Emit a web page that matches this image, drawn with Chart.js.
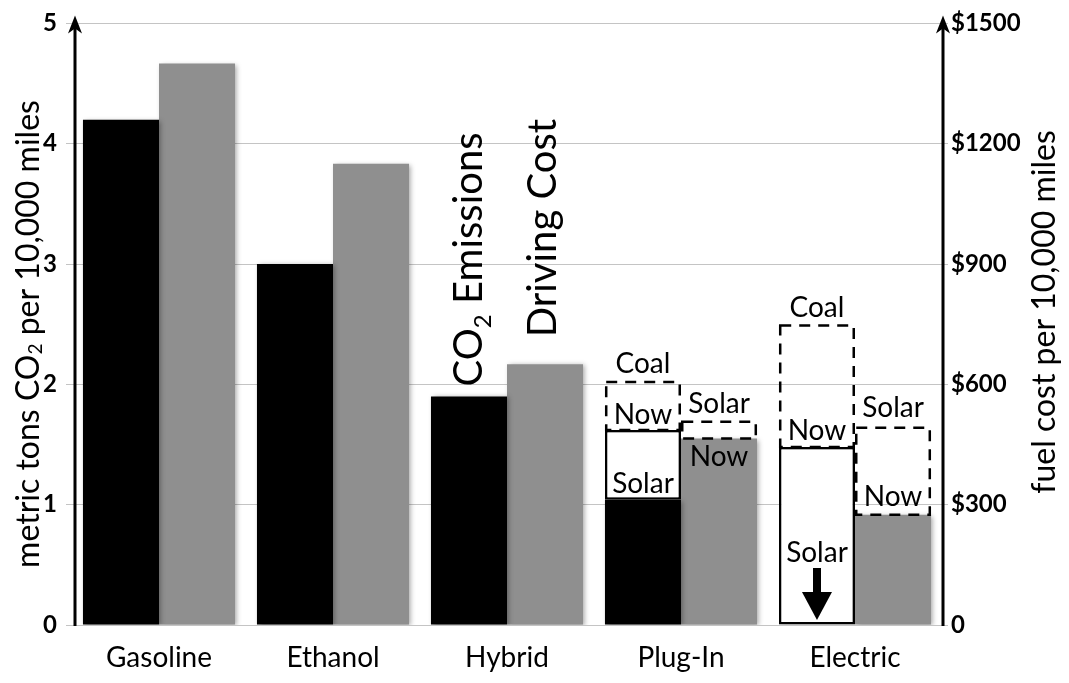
<!DOCTYPE html>
<html>
<head>
<meta charset="utf-8">
<script src="https://cdn.jsdelivr.net/npm/chart.js@4.4.1/dist/chart.umd.min.js"></script>
<style>
  html, body { margin: 0; padding: 0; background: #fff; }
  canvas { display: block; }
</style>
</head>
<body>
<canvas id="chart" width="1069" height="683"></canvas>
<script>
// Vehicle types along the x axis
const categories = ['Gasoline', 'Ethanol', 'Hybrid', 'Plug-In', 'Electric'];

// CO2 emissions, metric tons per 10,000 miles
const co2Now   = [4.2, 3.0, 1.9, 1.62, 1.48];
const co2Solar = [null, null, null, 1.04, 0];
const co2Coal  = [null, null, null, 2.03, 2.5];

// Fuel cost, dollars per 10,000 miles
const costNow   = [1400, 1150, 650, 465, 275];
const costSolar = [null, null, null, 510, 495];

// Axis tick values
const co2Ticks  = [0, 1, 2, 3, 4, 5];
const costTicks = [0, 300, 600, 900, 1200, 1500];

const FONT = 'Lato';
const GREY = '#8f8f8f';

// Solid black bar: the solar figure where one exists, otherwise today's figure
const co2Base = co2Now.map((v, i) => co2Solar[i] ?? v);
// Open box between the solar figure and today's figure
const co2NowBox = co2Now.map((v, i) => co2Solar[i] == null ? null : [co2Solar[i], v]);
// Dashed box up to the coal-powered figure
const co2CoalBox = co2Coal.map((v, i) => v == null ? null : [co2Now[i], v]);
// Dashed box for solar-powered driving cost
const costSolarBox = costSolar.map((v, i) => v == null ? null : [costNow[i], v]);

// Labels placed against individual bars: dataset, category, text, offset from bar top
const barNotes = [
  { ds: 2, i: 3, text: 'Coal',  dy: -8 },
  { ds: 1, i: 3, text: 'Now',   dy: -6 },
  { ds: 0, i: 3, text: 'Solar', dy: -7 },
  { ds: 4, i: 3, text: 'Solar', dy: -7 },
  { ds: 3, i: 3, text: 'Now',   dy: 27 },
  { ds: 2, i: 4, text: 'Coal',  dy: -7 },
  { ds: 1, i: 4, text: 'Now',   dy: -7 },
  { ds: 4, i: 4, text: 'Solar', dy: -9 },
  { ds: 3, i: 4, text: 'Now',   dy: -9 },
  { ds: 0, i: 4, text: 'Solar', dy: -63, arrow: true }
];

// Draw text rotated to read bottom-to-top, with optional subscript parts
function drawRotated(ctx, parts, x, y, size, align, baseline) {
  ctx.save();
  ctx.translate(x, y);
  ctx.rotate(-Math.PI / 2);
  ctx.textBaseline = baseline;
  ctx.textAlign = 'left';
  ctx.fillStyle = '#000';
  const mainFont = size + 'px ' + FONT;
  const subFont = Math.round(size * 0.6) + 'px ' + FONT;
  let total = 0;
  const widths = parts.map(p => {
    ctx.font = p.sub ? subFont : mainFont;
    const w = ctx.measureText(p.t).width;
    total += w;
    return w;
  });
  let cx = align === 'center' ? -total / 2 : 0;
  parts.forEach((p, k) => {
    ctx.font = p.sub ? subFont : mainFont;
    ctx.fillText(p.t, cx, p.sub ? size * 0.22 : 0);
    cx += widths[k];
  });
  ctx.restore();
}

// Soft drop shadow under the solid bars
const barShadow = {
  id: 'barShadow',
  beforeDatasetDraw(chart, args) {
    const ds = chart.data.datasets[args.index];
    if (!ds.shadow) return;
    const ctx = chart.ctx;
    ctx.save();
    ctx.shadowColor = 'rgba(0,0,0,0.35)';
    ctx.shadowBlur = 5;
    ctx.shadowOffsetX = 2;
    ctx.shadowOffsetY = 1;
  },
  afterDatasetDraw(chart, args) {
    const ds = chart.data.datasets[args.index];
    if (ds.shadow) chart.ctx.restore();
  }
};

// Dashed outlines for the alternative-power boxes
const dashedBoxes = {
  id: 'dashedBoxes',
  afterDatasetsDraw(chart) {
    const ctx = chart.ctx;
    chart.data.datasets.forEach((ds, di) => {
      if (!ds.dashed) return;
      const meta = chart.getDatasetMeta(di);
      meta.data.forEach((el, i) => {
        if (ds.data[i] == null) return;
        const { x, y, base, width } = el.getProps(['x', 'y', 'base', 'width'], true);
        const lw = 2.5;
        const l = x - width / 2 + lw / 2, r = x + width / 2 - lw / 2;
        ctx.save();
        ctx.strokeStyle = '#000';
        ctx.lineWidth = lw;
        ctx.setLineDash([11, 8]);
        ctx.strokeRect(l, y + lw / 2, r - l, base - y - lw / 2);
        ctx.restore();
      });
    });
  }
};

// Word labels on the bars, the downward arrow, and the two series captions
const annotations = {
  id: 'annotations',
  afterDatasetsDraw(chart) {
    const ctx = chart.ctx;
    ctx.save();
    ctx.fillStyle = '#000';
    ctx.font = '28px ' + FONT;
    ctx.textAlign = 'center';
    ctx.textBaseline = 'alphabetic';
    barNotes.forEach(n => {
      const el = chart.getDatasetMeta(n.ds).data[n.i];
      const { x, y, base } = el.getProps(['x', 'y', 'base'], true);
      if (n.arrow) {
        const ty = base + n.dy;
        ctx.fillText(n.text, x, ty);
        ctx.beginPath();
        ctx.rect(x - 4, ty + 6, 8, 26);
        ctx.fill();
        ctx.beginPath();
        ctx.moveTo(x - 15, ty + 30);
        ctx.lineTo(x + 15, ty + 30);
        ctx.lineTo(x, base - 5);
        ctx.closePath();
        ctx.fill();
      } else {
        ctx.fillText(n.text, x, y + n.dy);
      }
    });
    ctx.restore();

    // Series captions standing on the Hybrid bars
    const co2El = chart.getDatasetMeta(0).data[2];
    const costEl = chart.getDatasetMeta(3).data[2];
    drawRotated(ctx, [{ t: 'CO' }, { t: '2', sub: true }, { t: ' Emissions' }],
      co2El.x + 13, co2El.y - 10, 40, 'start', 'alphabetic');
    drawRotated(ctx, [{ t: 'Driving Cost' }],
      costEl.x + 11, costEl.y - 27, 40, 'start', 'alphabetic');
  }
};

// Heavy axis lines with arrowheads, and the axis titles
const axisFrame = {
  id: 'axisFrame',
  afterDraw(chart) {
    const ctx = chart.ctx;
    const { left, right, top, bottom } = chart.chartArea;
    ctx.save();
    ctx.strokeStyle = '#000';
    ctx.fillStyle = '#000';
    ctx.lineWidth = 3;
    [left + 3, right + 1].forEach(ax => {
      ctx.beginPath();
      ctx.moveTo(ax, bottom + 1);
      ctx.lineTo(ax, top - 2);
      ctx.stroke();
      ctx.beginPath();
      ctx.moveTo(ax, top - 8);
      ctx.lineTo(ax + 7, top + 10);
      ctx.lineTo(ax, top + 5);
      ctx.lineTo(ax - 7, top + 10);
      ctx.closePath();
      ctx.fill();
    });
    ctx.restore();

    drawRotated(ctx,
      [{ t: 'metric tons CO' }, { t: '2', sub: true }, { t: ' per 10,000 miles' }],
      29, 334, 32, 'center', 'middle');
    drawRotated(ctx, [{ t: 'fuel cost per 10,000 miles' }],
      1045, 312, 32, 'center', 'middle');
  }
};

function build() {
  new Chart(document.getElementById('chart'), {
    type: 'bar',
    data: {
      labels: categories,
      datasets: [
        { label: 'CO2 Emissions', data: co2Base, backgroundColor: '#000', borderWidth: 0,
          stack: 'co2', yAxisID: 'y', shadow: true },
        { label: 'CO2 Now', data: co2NowBox, backgroundColor: '#fff', borderColor: '#000',
          borderWidth: 2.5, borderSkipped: false, stack: 'co2', yAxisID: 'y', shadow: true },
        { label: 'CO2 Coal', data: co2CoalBox, backgroundColor: 'rgba(0,0,0,0)', borderWidth: 0,
          stack: 'co2', yAxisID: 'y', dashed: true },
        { label: 'Driving Cost', data: costNow, backgroundColor: GREY, borderWidth: 0,
          stack: 'cost', yAxisID: 'y1', shadow: true },
        { label: 'Cost Solar', data: costSolarBox, backgroundColor: 'rgba(0,0,0,0)', borderWidth: 0,
          stack: 'cost', yAxisID: 'y1', dashed: true }
      ]
    },
    options: {
      responsive: false,
      animation: false,
      devicePixelRatio: 1,
      layout: { padding: { top: 20, left: 0, right: 0, bottom: 0 } },
      plugins: { legend: { display: false }, tooltip: { enabled: false } },
      datasets: { bar: { categoryPercentage: 0.874, barPercentage: 1 } },
      scales: {
        x: {
          grid: { display: false },
          border: { display: false },
          ticks: { color: '#000', font: { family: FONT, size: 28 }, padding: 8 },
          afterFit(s) { s.height = 58; }
        },
        y: {
          position: 'left',
          stacked: false,
          min: 0, max: 5,
          afterBuildTicks(s) { s.ticks = co2Ticks.map(v => ({ value: v })); },
          ticks: { color: '#000', font: { family: FONT, size: 24, weight: 'bold' }, padding: 9 },
          grid: { color: '#c4c4c4', lineWidth: 1, tickLength: 6 },
          border: { display: false },
          afterFit(s) { s.width = 72; }
        },
        y1: {
          position: 'right',
          stacked: false,
          min: 0, max: 1500,
          afterBuildTicks(s) { s.ticks = costTicks.map(v => ({ value: v })); },
          ticks: {
            color: '#000', font: { family: FONT, size: 24, weight: 'bold' }, padding: 3,
            callback: v => v === 0 ? '0' : '$' + v
          },
          grid: { drawOnChartArea: false, color: '#c4c4c4', lineWidth: 1, tickLength: 6 },
          border: { display: false },
          afterFit(s) { s.width = 127; }
        }
      }
    },
    plugins: [barShadow, dashedBoxes, annotations, axisFrame]
  });
}

const fontLoads = ['28px Lato', 'bold 24px Lato'].map(f => document.fonts.load(f));
Promise.all(fontLoads).then(build, build);
</script>
</body>
</html>
